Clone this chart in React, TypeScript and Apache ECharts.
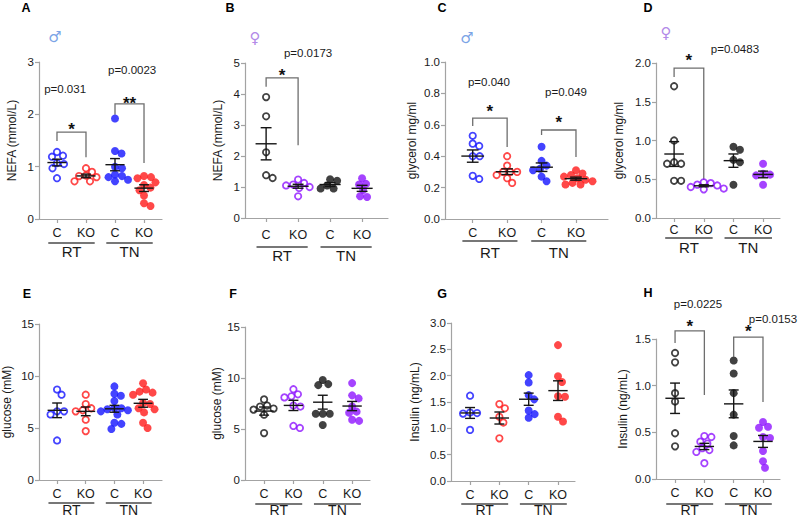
import React, { useEffect, useRef } from 'react';
import * as echarts from 'echarts';

// ---------- labels ----------
const groupLabels = ['C', 'KO', 'C', 'KO'];
const conditionLabels = ['RT', 'TN'];
const panelLetters = ['A', 'B', 'C', 'D', 'E', 'F', 'G', 'H'];
const yNames = ['NEFA (mmol/L)', 'NEFA (mmol/L)', 'glycerol mg/ml', 'glycerol mg/ml', 'glucose (mM)', 'glucose (mM)', 'Insulin (ng/mL)', 'Insulin (ng/mL)'];
const sexes = ['m', 'f', 'm', 'f', 'm', 'f', 'm', 'f'];
const showSex = [true, true, true, true, false, false, false, false];
const yMaxes = [3, 5, 1, 2, 15, 15, 3, 1.5];
const yIntervals = [1, 1, 0.2, 0.5, 5, 5, 0.5, 0.5];
const yDecimals = [0, 0, 1, 1, 0, 0, 1, 1];

// ---------- data (RT C, RT KO, TN C, TN KO) ----------
// A  NEFA male
const nefaMaleRtC = [1.28, 1.21, 1.19, 1.07, 1.05, 0.97, 0.78];
const nefaMaleRtKO = [0.97, 0.9, 0.83, 0.82, 0.8, 0.72, 0.72];
const nefaMaleTnC = [1.92, 1.3, 1.25, 1.0, 0.97, 0.85, 0.82, 0.8, 0.75, 0.72];
const nefaMaleTnKO = [0.82, 0.8, 0.78, 0.7, 0.65, 0.6, 0.55, 0.45, 0.3, 0.25];
// B  NEFA female
const nefaFemaleRtC = [3.9, 3.28, 2.12, 1.38, 1.29];
const nefaFemaleRtKO = [1.24, 1.13, 1.08, 1.05, 1.0, 0.97, 0.7];
const nefaFemaleTnC = [1.25, 1.2, 1.05, 0.95, 0.95];
const nefaFemaleTnKO = [1.28, 1.1, 1.08, 0.9, 0.7, 0.68];
// C  glycerol male
const glyMaleRtC = [0.53, 0.48, 0.465, 0.4, 0.4, 0.275, 0.255];
const glyMaleRtKO = [0.4, 0.34, 0.3, 0.3, 0.3, 0.28, 0.26, 0.23];
const glyMaleTnC = [0.46, 0.37, 0.34, 0.32, 0.31, 0.27, 0.24];
const glyMaleTnKO = [0.31, 0.29, 0.28, 0.27, 0.26, 0.25, 0.24, 0.23, 0.22, 0.22];
// D  glycerol female
const glyFemaleRtC = [1.7, 1.0, 0.72, 0.7, 0.7, 0.48, 0.48];
const glyFemaleRtKO = [0.46, 0.45, 0.43, 0.42, 0.4, 0.38, 0.37];
const glyFemaleTnC = [0.92, 0.88, 0.75, 0.72, 0.43];
const glyFemaleTnKO = [0.7, 0.57, 0.56, 0.55, 0.43];
// E  glucose male
const gluMaleRtC = [8.7, 8.2, 6.6, 6.6, 6.3, 3.8];
const gluMaleRtKO = [8.2, 7.3, 6.9, 6.7, 6.6, 5.8, 4.7];
const gluMaleTnC = [9.0, 8.3, 8.1, 7.6, 6.9, 6.9, 6.8, 6.7, 6.6, 6.3, 5.5, 5.4, 4.9];
const gluMaleTnKO = [9.3, 8.7, 8.5, 8.4, 8.2, 7.4, 7.3, 6.9, 6.8, 6.5, 5.5, 5.0];
// F  glucose female
const gluFemaleRtC = [7.9, 7.3, 7.2, 7.0, 6.9, 6.4, 4.6];
const gluFemaleRtKO = [8.9, 8.4, 8.2, 8.1, 7.3, 7.2, 5.3, 5.1];
const gluFemaleTnC = [9.8, 9.4, 9.3, 6.5, 6.5, 6.5, 5.4];
const gluFemaleTnKO = [9.5, 8.3, 8.0, 7.2, 6.7, 6.6, 5.9, 5.8];
// G  insulin male
const insMaleRtC = [1.62, 1.3, 1.29, 1.28, 0.97];
const insMaleRtKO = [1.46, 1.38, 1.22, 1.11, 0.81];
const insMaleTnC = [2.01, 1.87, 1.63, 1.55, 1.34, 1.27, 1.2];
const insMaleTnKO = [2.58, 1.99, 1.88, 1.61, 1.6, 1.22, 1.13];
// H  insulin female
const insFemaleRtC = [1.35, 1.25, 0.92, 0.83, 0.49, 0.35];
const insFemaleRtKO = [0.46, 0.45, 0.4, 0.38, 0.33, 0.31, 0.29, 0.17];
const insFemaleTnC = [1.27, 1.13, 0.92, 0.69, 0.46, 0.36];
const insFemaleTnKO = [0.61, 0.56, 0.55, 0.45, 0.44, 0.3, 0.19, 0.12];

const panelGroups = [
  [nefaMaleRtC, nefaMaleRtKO, nefaMaleTnC, nefaMaleTnKO],
  [nefaFemaleRtC, nefaFemaleRtKO, nefaFemaleTnC, nefaFemaleTnKO],
  [glyMaleRtC, glyMaleRtKO, glyMaleTnC, glyMaleTnKO],
  [glyFemaleRtC, glyFemaleRtKO, glyFemaleTnC, glyFemaleTnKO],
  [gluMaleRtC, gluMaleRtKO, gluMaleTnC, gluMaleTnKO],
  [gluFemaleRtC, gluFemaleRtKO, gluFemaleTnC, gluFemaleTnKO],
  [insMaleRtC, insMaleRtKO, insMaleTnC, insMaleTnKO],
  [insFemaleRtC, insFemaleRtKO, insFemaleTnC, insFemaleTnKO],
];

// significance annotations (data units of each panel)
const pValueTexts = ['p=0.031', 'p=0.0023', 'p=0.0173', 'p=0.040', 'p=0.049', 'p=0.0483', 'p=0.0225', 'p=0.0153'];
const starTexts = ['*', '**', '*', '*', '*', '*', '*', '*'];
const annotationPanel = [0, 0, 1, 2, 2, 3, 7, 7];
const annotationFrom = [1, 3, 1, 1, 3, 1, 1, 3];
const annotationTo = [2, 4, 2, 2, 4, 2, 2, 4];
const bracketTop = [1.66, 2.2, 4.52, 0.643, 0.567, 1.935, 1.586, 1.52];
const bracketLeg1 = [1.49, 1.99, 4.23, 0.592, 0.535, 1.82, 1.457, 1.31];
const bracketLeg2 = [1.18, 1.07, 2.35, 0.459, 0.395, 0.49, 0.9, 0.825];
const starLevel = [1.78, 2.29, 4.71, 0.713, 0.643, 2.08, 1.68, 1.62];
const pLabelX = [1.28, 3.59, 2.31, 1.47, 3.71, 3.05, 1.78, 4.34];
const pLabelY = [2.48, 2.85, 5.32, 0.873, 0.809, 2.18, 1.875, 1.715];

// ---------- layout ----------
const LAYOUT = [
  { left: 39, top: 62, width: 123, height: 157, xMin: 0.38, xMax: 4.62, nameGap: 21, labelMargin: 7, underline: 24, cond: 32, letter: [26, 8], sex: [55, 37] },
  { left: 245, top: 63, width: 143, height: 155, xMin: 0.34, xMax: 4.81, nameGap: 21, labelMargin: 10, underline: 29, cond: 37, letter: [230, 8], sex: [255, 38] },
  { left: 445, top: 62, width: 163, height: 157, xMin: 0.195, xMax: 4.93, nameGap: 27, labelMargin: 7, underline: 22, cond: 33, letter: [442, 8], sex: [467, 38] },
  { left: 656, top: 63, width: 124, height: 155, xMin: 0.39, xMax: 4.57, nameGap: 31, labelMargin: 5, underline: 20, cond: 29, letter: [648, 8], sex: [666, 33] },
  { left: 39, top: 324, width: 123, height: 156, xMin: 0.37, xMax: 4.66, nameGap: 26, labelMargin: 7, underline: 23, cond: 30, letter: [27, 294], sex: [0, 0] },
  { left: 245, top: 327, width: 125, height: 153, xMin: 0.35, xMax: 4.61, nameGap: 22, labelMargin: 7, underline: 24, cond: 30, letter: [233, 294], sex: [0, 0] },
  { left: 451, top: 323, width: 124, height: 158, xMin: 0.35, xMax: 4.58, nameGap: 30, labelMargin: 7, underline: 23, cond: 29, letter: [442, 294], sex: [0, 0] },
  { left: 656, top: 339, width: 124, height: 140, xMin: 0.35, xMax: 4.58, nameGap: 27, labelMargin: 7, underline: 25, cond: 31, letter: [648, 293], sex: [0, 0] },
];

const FONT = '"Liberation Sans", Arial, Helvetica, sans-serif';
const BLUE = '#1414ff';
const RED = '#ff1a1a';
const PURPLE = '#8f14ff';
const BLACK = '#111111';
const AXIS = '#a3a3a3';
const MEAN_HALF = 0.33;
const CAP_HALF = 0.17;

function swarmOffsets(values: number[], pxPerY: number, pxPerX: number, diam: number): number[] {
  const placed: { x: number; y: number }[] = [];
  return values.map((v) => {
    const y = v * pxPerY;
    let best = 0;
    for (let k = 0; k < 400; k++) {
      const cand = k === 0 ? 0 : (k % 2 === 1 ? 1 : -1) * Math.ceil(k / 2) * 0.5;
      if (placed.every((p) => Math.hypot(p.x - cand, p.y - y) >= diam)) {
        best = cand;
        break;
      }
    }
    placed.push({ x: best, y });
    return best / pxPerX;
  });
}

function meanSem(vals: number[]) {
  const n = vals.length;
  const m = vals.reduce((a, b) => a + b, 0) / n;
  const sd = Math.sqrt(vals.reduce((a, b) => a + (b - m) * (b - m), 0) / (n - 1));
  return [m, sd / Math.sqrt(n)];
}

export default function App() {
  const ref = useRef<HTMLDivElement>(null);
  useEffect(() => {
    document.body.style.margin = '0';
    if (!ref.current) return;
    const chart = echarts.init(ref.current, undefined, { renderer: 'svg' });

    const grids: any[] = [];
    const xAxes: any[] = [];
    const yAxes: any[] = [];
    const series: any[] = [];

    panelGroups.forEach((groups, i) => {
      const L = LAYOUT[i];
      const female = sexes[i] === 'f';
      const ctrlColor = female ? BLACK : BLUE;
      const koColor = female ? PURPLE : RED;
      grids.push({ left: L.left, top: L.top, width: L.width, height: L.height, containLabel: false });
      xAxes.push({
        gridIndex: i,
        type: 'value',
        min: L.xMin,
        max: L.xMax,
        axisLine: { show: true, onZero: false, lineStyle: { color: AXIS, width: 1.2 } },
        axisTick: { show: true, length: 4, customValues: [1, 2, 3, 4], lineStyle: { color: AXIS, width: 1.2 } },
        axisLabel: {
          customValues: [1, 2, 3, 4],
          formatter: (v: number) => groupLabels[Math.round(v) - 1] ?? '',
          margin: L.labelMargin,
          color: '#1a1a1a',
          fontSize: 12.5,
          fontFamily: FONT,
        },
        splitLine: { show: false },
      });
      const dec = yDecimals[i];
      yAxes.push({
        gridIndex: i,
        type: 'value',
        min: 0,
        max: yMaxes[i],
        interval: yIntervals[i],
        axisLine: { show: true, lineStyle: { color: AXIS, width: 1.2 } },
        axisTick: { show: true, length: 4, lineStyle: { color: AXIS, width: 1.2 } },
        axisLabel: { color: '#1a1a1a', fontSize: 11.5, fontFamily: FONT, margin: 5, formatter: (v: number) => v.toFixed(dec) },
        splitLine: { show: false },
        name: yNames[i],
        nameLocation: 'middle',
        nameGap: L.nameGap,
        nameTextStyle: { color: '#1a1a1a', fontSize: 12, fontFamily: FONT },
      });
      const pxPerY = L.height / yMaxes[i];
      const pxPerX = L.width / (L.xMax - L.xMin);
      const stats: number[][] = [];
      groups.forEach((vals, g) => {
        const offs = swarmOffsets(vals, pxPerY, pxPerX, 6.8);
        const color = g % 2 === 0 ? ctrlColor : koColor;
        const open = g < 2;
        series.push({
          type: 'scatter',
          xAxisIndex: i,
          yAxisIndex: i,
          clip: false,
          symbol: 'circle',
          symbolSize: open ? 6.4 : 8,
          itemStyle: open
            ? { color: 'rgba(255,255,255,0)', borderColor: color, borderWidth: 1.8 }
            : { color: color, borderWidth: 0 },
          data: vals.map((v, k) => [g + 1 + offs[k], v]),
          z: 2,
        });
        const [m, s] = meanSem(vals);
        stats.push([g + 1, m, s]);
      });
      series.push({
        type: 'custom',
        xAxisIndex: i,
        yAxisIndex: i,
        z: 5,
        data: stats,
        renderItem: (_p: any, api: any) => {
          const gx = api.value(0);
          const m = api.value(1);
          const s = api.value(2);
          const c = api.coord([gx, m]);
          const t = api.coord([gx, m + s]);
          const b = api.coord([gx, m - s]);
          const hw = api.size([MEAN_HALF, 0])[0];
          const cw = api.size([CAP_HALF, 0])[0];
          const style = { stroke: '#151515', lineWidth: 1.4 };
          return {
            type: 'group',
            children: [
              { type: 'line', shape: { x1: c[0] - hw, y1: c[1], x2: c[0] + hw, y2: c[1] }, style },
              { type: 'line', shape: { x1: t[0], y1: t[1], x2: b[0], y2: b[1] }, style },
              { type: 'line', shape: { x1: t[0] - cw, y1: t[1], x2: t[0] + cw, y2: t[1] }, style },
              { type: 'line', shape: { x1: b[0] - cw, y1: b[1], x2: b[0] + cw, y2: b[1] }, style },
            ],
          };
        },
      });
    });

    chart.setOption({
      animation: false,
      backgroundColor: '#ffffff',
      grid: grids,
      xAxis: xAxes,
      yAxis: yAxes,
      series,
    });

    const px = (i: number, x: number, y: number) => chart.convertToPixel({ gridIndex: i } as any, [x, y]) as number[];
    const elements: any[] = [];

    panelGroups.forEach((_g, i) => {
      const L = LAYOUT[i];
      elements.push({
        type: 'text',
        x: L.letter[0],
        y: L.letter[1],
        style: { text: panelLetters[i], fontSize: 12.5, fontWeight: 'bold', fontFamily: FONT, fill: '#000', align: 'center', verticalAlign: 'middle' },
      });
      if (showSex[i]) {
        elements.push({
          type: 'text',
          x: L.sex[0],
          y: L.sex[1],
          style: {
            text: sexes[i] === 'm' ? '♂' : '♀',
            fontSize: 15,
            fontFamily: '"DejaVu Sans", sans-serif',
            fill: sexes[i] === 'm' ? '#7ba4e6' : '#b38ae8',
            align: 'center',
            verticalAlign: 'middle',
          },
        });
      }
      const zeroY = px(i, 1, 0)[1];
      const condSize = i >= 4 ? 14 : 15;
      conditionLabels.forEach((lab, k) => {
        const g1 = 2 * k + 1;
        const g2 = 2 * k + 2;
        const a = px(i, g1 - 0.3, 0);
        const b = px(i, g2 + 0.3, 0);
        const mid = px(i, (g1 + g2) / 2, 0);
        elements.push({
          type: 'line',
          shape: { x1: a[0], y1: zeroY + L.underline, x2: b[0], y2: zeroY + L.underline },
          style: { stroke: '#4a4a4a', lineWidth: 1.3 },
        });
        elements.push({
          type: 'text',
          x: mid[0],
          y: zeroY + L.cond,
          style: { text: lab, fontSize: condSize, fontFamily: FONT, fill: '#1a1a1a', align: 'center', verticalAlign: 'middle' },
        });
      });
    });

    annotationPanel.forEach((i, k) => {
      const x1 = annotationFrom[k];
      const x2 = annotationTo[k];
      const p1 = px(i, x1, bracketLeg1[k]);
      const p2 = px(i, x1, bracketTop[k]);
      const p3 = px(i, x2, bracketTop[k]);
      const p4 = px(i, x2, bracketLeg2[k]);
      elements.push({
        type: 'polyline',
        shape: { points: [p1, p2, p3, p4] },
        style: { stroke: '#6e6e6e', lineWidth: 1.3, fill: 'none' },
      });
      const st = px(i, (x1 + x2) / 2, starLevel[k]);
      elements.push({
        type: 'text',
        x: st[0],
        y: st[1] + 4,
        style: { text: starTexts[k], fontSize: 17, fontWeight: 'bold', fontFamily: FONT, fill: '#111', align: 'center', verticalAlign: 'middle' },
      });
      const pl = px(i, pLabelX[k], pLabelY[k]);
      elements.push({
        type: 'text',
        x: pl[0],
        y: pl[1],
        style: { text: pValueTexts[k], fontSize: 11.5, fontFamily: FONT, fill: '#1a1a1a', align: 'center', verticalAlign: 'middle' },
      });
    });

    chart.setOption({ graphic: elements });

    return () => chart.dispose();
  }, []);

  return <div ref={ref} style={{ width: 798, height: 519 }} />;
}
